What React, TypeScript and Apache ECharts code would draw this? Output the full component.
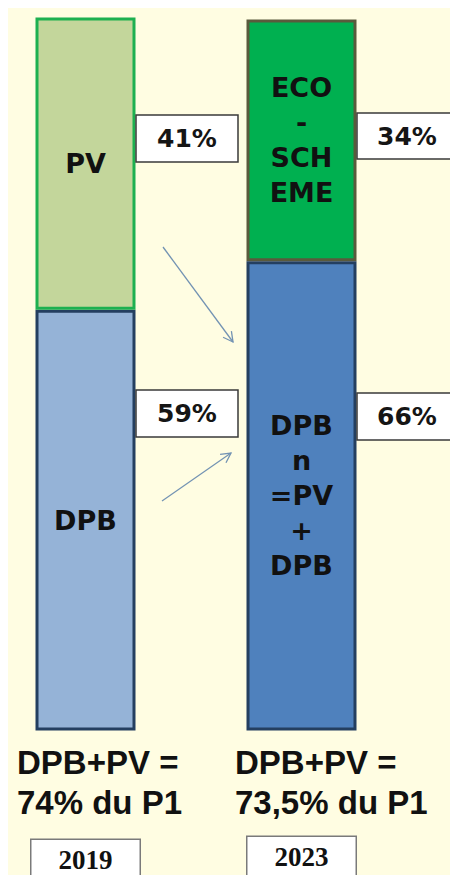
import React, { useEffect, useRef } from "react";
import * as echarts from "echarts";

const years = ["2019", "2023"];
const baseNames = ["DPB", "DPB\nn\n=PV\n+\nDPB"];
const baseShares = [59, 66];
const topNames = ["PV", "ECO\n-\nSCH\nEME"];
const topShares = [41, 34];
const totalTexts = ["DPB+PV =\n74% du P1", "DPB+PV =\n73,5% du P1"];

const BG = "#FFFDE2";

function arrow(x1: number, y1: number, x2: number, y2: number, color: string) {
  const dx = x2 - x1;
  const dy = y2 - y1;
  const len = Math.sqrt(dx * dx + dy * dy);
  const ux = dx / len;
  const uy = dy / len;
  const head = 11;
  const ang = (28 * Math.PI) / 180;
  const rot = (a: number) => [
    ux * Math.cos(a) - uy * Math.sin(a),
    ux * Math.sin(a) + uy * Math.cos(a),
  ];
  const [ax, ay] = rot(ang);
  const [bx, by] = rot(-ang);
  return [
    { type: "line", shape: { x1, y1, x2, y2 }, style: { stroke: color, lineWidth: 1.3 } },
    {
      type: "polyline",
      shape: {
        points: [
          [x2 - head * ax, y2 - head * ay],
          [x2, y2],
          [x2 - head * bx, y2 - head * by],
        ],
      },
      style: { stroke: color, lineWidth: 1.3, fill: null },
    },
  ];
}

function pctBox(x: number, y: number, w: number, h: number, text: string, tx: number) {
  return [
    {
      type: "rect",
      shape: { x, y, width: w, height: h },
      style: { fill: "#ffffff", stroke: "#3a3a3a", lineWidth: 1.5 },
      z: 10,
    },
    {
      type: "text",
      x: tx,
      y: y + h / 2,
      style: {
        text,
        fill: "#151515",
        font: "bold 25px 'DejaVu Sans', Verdana, sans-serif",
        align: "center",
        verticalAlign: "middle",
      },
      z: 11,
    },
  ];
}

export default function App() {
  const ref = useRef<HTMLDivElement>(null);

  useEffect(() => {
    if (!ref.current) return;
    document.documentElement.style.overflow = "hidden";
    document.body.style.overflow = "hidden";
    const chart = echarts.init(ref.current, undefined, { renderer: "svg" });

    const insideLabel = (txt: string) => ({
      show: true,
      position: "inside",
      formatter: () => txt,
      color: "#111111",
      fontFamily: "'DejaVu Sans', Verdana, sans-serif",
      fontWeight: "bold",
      fontSize: 27,
      lineHeight: 35,
      align: "center",
    });

    const yearLabel = (margin: number) => ({
      show: true,
      interval: 0,
      margin,
      color: "#111111",
      fontFamily: "'Liberation Serif', 'Times New Roman', serif",
      fontWeight: "bold",
      fontSize: 27,
      lineHeight: 30,
      width: 108,
      align: "center",
      backgroundColor: "#ffffff",
      borderColor: "#7a7a7a",
      borderWidth: 1.5,
      padding: [5, 0, 12, 0],
    });

    const graphics: any[] = [
      ...pctBox(128, 107, 102, 47, `${topShares[0]}%`, 179),
      ...pctBox(128, 382, 102, 47, `${baseShares[0]}%`, 179),
      ...pctBox(349, 105, 110, 46, `${topShares[1]}%`, 399),
      ...pctBox(349, 385, 110, 47, `${baseShares[1]}%`, 399),
      ...arrow(155, 239, 225, 334, "#7393B3"),
      ...arrow(154, 493, 223, 445, "#7393B3"),
      {
        type: "text",
        x: 9,
        y: 734,
        style: {
          text: totalTexts[0],
          fill: "#111111",
          font: "bold 33px 'Liberation Sans', Arial, sans-serif",
          lineHeight: 40,
          align: "left",
          verticalAlign: "top",
        },
      },
      {
        type: "text",
        x: 227,
        y: 734,
        style: {
          text: totalTexts[1],
          fill: "#111111",
          font: "bold 33px 'Liberation Sans', Arial, sans-serif",
          lineHeight: 40,
          align: "left",
          verticalAlign: "top",
        },
      },
    ];

    chart.setOption({
      animation: false,
      backgroundColor: BG,
      grid: [
        { left: 27.5, top: 9.5, width: 100, height: 713, outerBoundsMode: "none", containLabel: false },
        { left: 238.5, top: 11.5, width: 110, height: 711, outerBoundsMode: "none", containLabel: false },
      ],
      xAxis: [
        {
          gridIndex: 0,
          type: "category",
          data: [years[0]],
          axisLine: { show: false },
          axisTick: { show: false },
          axisLabel: yearLabel(109.5),
        },
        {
          gridIndex: 1,
          type: "category",
          data: [years[1]],
          axisLine: { show: false },
          axisTick: { show: false },
          axisLabel: yearLabel(106.5),
        },
      ],
      yAxis: [
        { gridIndex: 0, type: "value", min: 0, max: 100, show: false, splitLine: { show: false } },
        { gridIndex: 1, type: "value", min: 0, max: 100, show: false, splitLine: { show: false } },
      ],
      series: [
        {
          type: "bar",
          xAxisIndex: 0,
          yAxisIndex: 0,
          stack: "y2019",
          barWidth: "100%",
          data: [baseShares[0]],
          itemStyle: { color: "#95B3D7", borderColor: "#243F60", borderWidth: 3 },
          label: insideLabel(baseNames[0]),
          z: 2,
        },
        {
          type: "bar",
          xAxisIndex: 0,
          yAxisIndex: 0,
          stack: "y2019",
          barWidth: "100%",
          data: [topShares[0]],
          itemStyle: { color: "#C3D69B", borderColor: "#1DB050", borderWidth: 3 },
          label: insideLabel(topNames[0]),
          z: 3,
        },
        {
          type: "bar",
          xAxisIndex: 1,
          yAxisIndex: 1,
          stack: "y2023",
          barWidth: "100%",
          data: [baseShares[1]],
          itemStyle: { color: "#4F81BD", borderColor: "#243F60", borderWidth: 3 },
          label: insideLabel(baseNames[1]),
          z: 3,
        },
        {
          type: "bar",
          xAxisIndex: 1,
          yAxisIndex: 1,
          stack: "y2023",
          barWidth: "100%",
          data: [topShares[1]],
          itemStyle: { color: "#00B050", borderColor: "#5A5A3C", borderWidth: 3 },
          label: insideLabel(topNames[1]),
          z: 2,
        },
      ],
      graphic: graphics,
    });

    return () => chart.dispose();
  }, []);

  return (
    <div
      ref={ref}
      style={{ position: "fixed", left: 8, top: 8, width: 442, height: 867, background: BG }}
    />
  );
}
